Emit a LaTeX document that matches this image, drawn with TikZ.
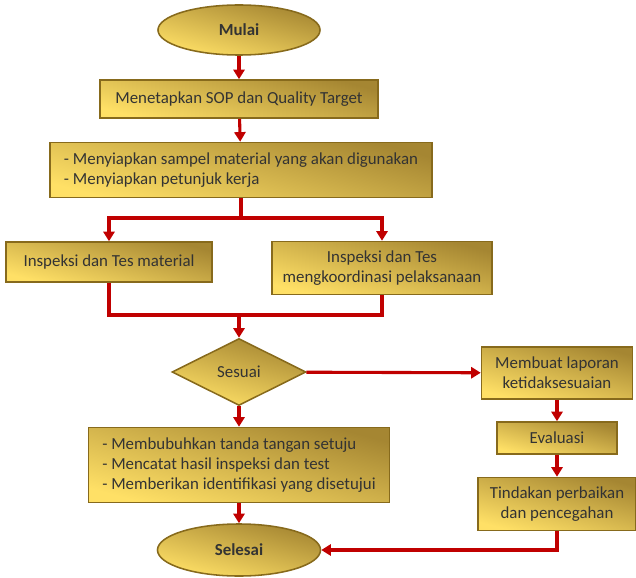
\documentclass[tikz,border=0pt]{standalone}
\usepackage{fontspec}
\setmainfont{Carlito}
\usepackage{xcolor}
\usetikzlibrary{arrows.meta,positioning,shapes.geometric}
\definecolor{goldlight}{RGB}{255,224,102}
\definecolor{goldmid}{RGB}{232,196,80}
\definecolor{golddark}{RGB}{165,134,50}
\definecolor{goldedge}{RGB}{135,106,28}
\definecolor{flowred}{RGB}{192,0,0}
\definecolor{textgray}{RGB}{51,51,51}

\begin{document}
\begin{tikzpicture}[
        x=0.025cm, y=-0.025cm,
        gold/.style={draw=goldedge, line width=1.1pt, left color=goldlight, middle color=goldmid, right color=golddark, shading angle=165, text=textgray, font=\fontsize{12}{14.5}\selectfont},
        box/.style={gold, rectangle, align=center, inner sep=2pt},
        listbox/.style={gold, rectangle, align=left, inner sep=2pt},
        term/.style={gold, ellipse, inner sep=0pt, font=\fontsize{12}{14.5}\selectfont\bfseries},
        decide/.style={gold, diamond, inner sep=0pt},
        arr/.style={-{Triangle[length=2.4mm, width=2.8mm]}, flowred, line width=2.2pt},
        link/.style={flowred, line width=2.2pt}
    ]
    \useasboundingbox (0,0) rectangle (636,577);

    \node[term, minimum width=4.05cm, minimum height=1.25cm] (mulai) at (239,30) {Mulai};
    \node[box, minimum width=6.95cm, minimum height=0.95cm] (sop) at (239,99) {Menetapkan SOP dan Quality Target};
    \node[listbox, minimum width=9.55cm, minimum height=1.375cm] (siap) at (241,170) {- Menyiapkan sampel material yang akan digunakan\\- Menyiapkan petunjuk kerja};
    \node[box, minimum width=5.15cm, minimum height=1.0cm] (insmat) at (109,262) {Inspeksi dan Tes material};
    \node[box, minimum width=5.5cm, minimum height=1.325cm] (inskoor) at (382,268) {Inspeksi dan Tes\\mengkoordinasi pelaksanaan};
    \node[decide, minimum width=3.35cm, minimum height=1.675cm] (sesuai) at (239,372) {Sesuai};
    \node[box, minimum width=3.775cm, minimum height=1.3cm] (laporan) at (557,373) {Membuat laporan\\ketidaksesuaian};
    \node[box, minimum width=3.0cm, minimum height=0.8cm] (evaluasi) at (557,438) {Evaluasi};
    \node[box, minimum width=3.95cm, minimum height=1.325cm] (tindakan) at (557,504) {Tindakan perbaikan\\dan pencegahan};
    \node[listbox, minimum width=7.525cm, minimum height=1.875cm] (catat) at (239,465) {- Membubuhkan tanda tangan setuju\\- Mencatat hasil inspeksi dan test\\- Memberikan identifikasi yang\ disetujui};
    \node[term, minimum width=4.075cm, minimum height=1.3cm] (selesai) at (239,550) {Selesai};

    \draw[arr] (mulai) -- (sop);
    \draw[arr] (sop) -- (siap);
    \coordinate (cabang) at (241,218);
    \draw[link] (siap.south) -- (cabang);
    \draw[arr] (cabang) -| (insmat);
    \draw[arr] (cabang) -| (inskoor);
    \coordinate (gabung) at (239,315);
    \draw[link] (insmat) |- (gabung) -| (inskoor);
    \draw[arr] (gabung) -- (sesuai);
    \draw[arr] (sesuai) -- (laporan);
    \draw[arr] (laporan) -- (evaluasi);
    \draw[arr] (evaluasi) -- (tindakan);
    \draw[arr] (sesuai) -- (catat);
    \draw[arr] (catat) -- (selesai);
    \draw[arr] (tindakan.south) |- (selesai.east);
\end{tikzpicture}
\end{document}
